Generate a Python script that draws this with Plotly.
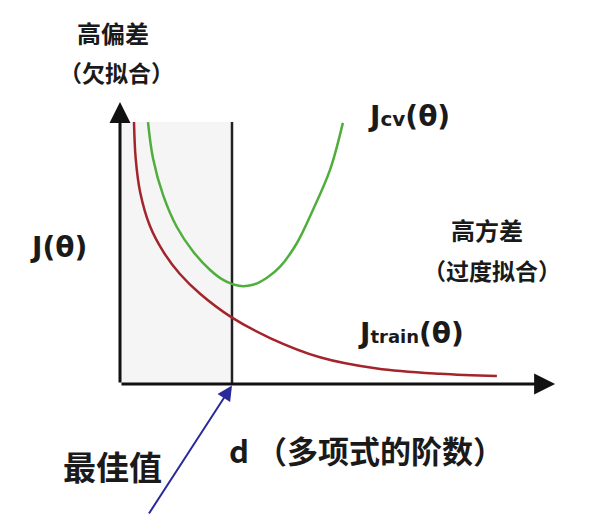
import plotly.graph_objects as go

# ---- data (polynomial degree d vs cost J) ----
train_d = [0.5, 0.56, 0.72, 1.07, 1.54, 2.14, 2.86, 3.96, 5.36, 7.14, 9.18, 11.43, 13.46]
train_J = [9.29, 8.0, 6.8, 5.6, 4.7, 3.9, 3.2, 2.38, 1.63, 0.95, 0.55, 0.36, 0.28]

cv_d = [1.0, 1.18, 1.54, 2.04, 2.61, 3.21, 3.7, 4.25, 4.75, 5.25, 5.71, 6.32, 6.89, 7.5, 7.96]
cv_J = [9.29, 8.0, 6.7, 5.55, 4.7, 4.05, 3.68, 3.48, 3.52, 3.77, 4.15, 5.0, 6.17, 7.59, 9.26]

best_d = 4.0
line_top = 9.29
x_axis_end = 15.54
y_axis_end = 10.0

# pixel mapping helpers (layout only); page body has an 8px margin
PX_X, PX_Y = 28.0, 28.2
OX, OY = 120, 384
W, H = 589, 531
M = 8
def dx(px):
    return (px - OX) / PX_X
def dy(py):
    return (OY - py) / PX_Y

fig = go.Figure()

# shaded region left of the best value
fig.add_shape(type="rect", x0=0, x1=best_d, y0=0, y1=line_top,
              fillcolor="#f5f5f5", line_width=0, layer="below")

# vertical line at best d
fig.add_trace(go.Scatter(x=[best_d, best_d], y=[0, line_top], mode="lines",
                         line=dict(color="#222222", width=2.5), hoverinfo="skip"))

fig.add_trace(go.Scatter(x=cv_d, y=cv_J, mode="lines", line_shape="spline",
                         line=dict(color="#4fae3c", width=2.5), hoverinfo="skip"))
fig.add_trace(go.Scatter(x=train_d, y=train_J, mode="lines", line_shape="spline",
                         line=dict(color="#a3242a", width=2.5), hoverinfo="skip"))

anns = []
# axes with arrows
anns.append(dict(x=x_axis_end, y=0, ax=0, ay=0, xref="x", yref="y", axref="x", ayref="y",
                 text="", showarrow=True, arrowhead=2, arrowsize=1.4, arrowwidth=3,
                 arrowcolor="#111111"))
anns.append(dict(x=0, y=y_axis_end, ax=0, ay=0, xref="x", yref="y", axref="x", ayref="y",
                 text="", showarrow=True, arrowhead=2, arrowsize=1.4, arrowwidth=3,
                 arrowcolor="#111111"))
# blue arrow to best value
anns.append(dict(x=best_d, y=-0.05, ax=dx(148), ay=dy(515), xref="x", yref="y",
                 axref="x", ayref="y", text="", showarrow=True, arrowhead=2,
                 arrowsize=1.5, arrowwidth=2, arrowcolor="#2a2a9a"))

LAT = "DejaVu Sans, Noto Sans CJK SC"
CJK = "Noto Sans CJK SC"
def txt(px, py, s, size, fam=CJK):
    anns.append(dict(x=dx(px), y=dy(py), xref="x", yref="y", text=s, showarrow=False,
                     font=dict(family=fam, size=size, color="#1a1a1a"),
                     xanchor="center", yanchor="middle"))

txt(113, 32, "<b>高偏差</b>", 24)
txt(116, 72, "<b>（欠拟合）</b>", 23)
txt(487, 229, "<b>高方差</b>", 24)
txt(492, 270, "<b>（过度拟合）</b>", 23)
txt(58, 247, "<b>J(θ)</b>", 28, LAT)
txt(409, 116, "<b>J<span style='font-size:20px'>cv</span>(θ)</b>", 28, LAT)
txt(411, 333, "<b>J<span style='font-size:18px'>train</span>(θ)</b>", 28, LAT)
txt(366, 449, "<b>d （多项式的阶数）</b>", 31)
txt(112, 466, "<b>最佳值</b>", 33)

fig.update_layout(
    width=W - 2 * M, height=H - 2 * M, margin=dict(l=0, r=0, t=0, b=0),
    paper_bgcolor="white", plot_bgcolor="white", showlegend=False,
    xaxis=dict(range=[dx(M), dx(W - M)], visible=False, fixedrange=True),
    yaxis=dict(range=[dy(H - M), dy(M)], visible=False, fixedrange=True),
    annotations=anns,
)

fig.write_html("out.html")
